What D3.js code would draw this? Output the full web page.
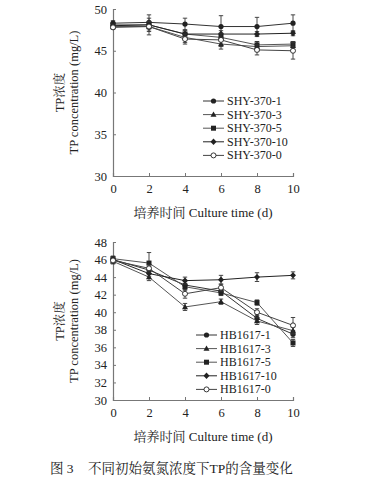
<!DOCTYPE html>
<html><head><meta charset="utf-8">
<script src="https://cdn.jsdelivr.net/npm/d3@7"></script>
<style>body{margin:0;background:#fff}svg{display:block}</style>
</head><body>
<svg id="c" width="369" height="488"></svg>
<script>
const days = [0, 2, 4, 6, 8, 10];
const xTicks = [0, 2, 4, 6, 8, 10];

// Top panel (SHY-370)
const topNames = ["SHY-370-1", "SHY-370-3", "SHY-370-5", "SHY-370-10", "SHY-370-0"];
const shy1  = [48.3, 48.4, 48.2, 47.9, 47.9, 48.3];
const shy3  = [47.9, 47.9, 46.6, 45.8, 45.5, 45.6];
const shy5  = [48.1, 48.1, 47.0, 46.6, 45.7, 45.8];
const shy10 = [48.0, 48.1, 47.0, 47.0, 47.0, 47.1];
const shy0  = [47.8, 47.9, 46.4, 46.3, 45.1, 45.0];
const shy1e  = [0.3, 0.9, 0.7, 1.3, 1.1, 1.0];
const shy3e  = [0.3, 1.0, 0.6, 0.6, 0.6, 0.4];
const shy5e  = [0.2, 0.4, 0.5, 0.5, 0.4, 0.3];
const shy10e = [0.2, 0.3, 0.4, 0.4, 0.3, 0.3];
const shy0e  = [0.2, 0.6, 0.6, 0.8, 0.6, 1.0];
const topYTicks = [30, 35, 40, 45, 50];

// Bottom panel (HB1617)
const botNames = ["HB1617-1", "HB1617-3", "HB1617-5", "HB1617-10", "HB1617-0"];
const hb1  = [46.0, 44.8, 43.1, 42.4, 39.3, 37.5];
const hb3  = [45.8, 44.0, 40.6, 41.2, 39.0, 37.9];
const hb5  = [46.1, 45.6, 42.9, 42.2, 41.1, 36.5];
const hb10 = [46.0, 44.4, 43.6, 43.7, 44.0, 44.2];
const hb0  = [45.9, 45.0, 42.1, 42.8, 40.0, 38.5];
const hb1e  = [0.3, 0.4, 0.4, 0.3, 0.4, 0.4];
const hb3e  = [0.3, 0.4, 0.4, 0.3, 0.4, 0.4];
const hb5e  = [0.3, 1.2, 0.4, 0.3, 0.3, 0.4];
const hb10e = [0.3, 0.3, 0.4, 0.5, 0.5, 0.4];
const hb0e  = [0.3, 0.4, 0.5, 0.4, 0.4, 0.9];
const botYTicks = [30, 32, 34, 36, 38, 40, 42, 44, 46, 48];

const markers = ["circle", "triangle", "square", "diamond", "open"];
const lineColors = ["#333", "#555", "#555", "#222", "#444"];

const svg = d3.select("#c");
const font = "'Liberation Serif', 'Times New Roman', serif";
const cjk = "'Liberation Serif', 'Noto Serif CJK SC', 'Noto Sans CJK SC', serif";

function drawMarker(g, type, x, y) {
  if (type === "circle") g.append("circle").attr("cx", x).attr("cy", y).attr("r", 2.6).attr("fill", "#222");
  else if (type === "open") g.append("circle").attr("cx", x).attr("cy", y).attr("r", 2.5).attr("fill", "#fff").attr("stroke", "#222").attr("stroke-width", 0.9);
  else if (type === "square") g.append("rect").attr("x", x - 2.5).attr("y", y - 2.5).attr("width", 5).attr("height", 5).attr("fill", "#222");
  else if (type === "triangle") g.append("path").attr("d", `M${x},${y - 3.2}L${x + 3},${y + 2.2}L${x - 3},${y + 2.2}Z`).attr("fill", "#222");
  else if (type === "diamond") g.append("path").attr("d", `M${x},${y - 3.2}L${x + 3},${y}L${x},${y + 3.2}L${x - 3},${y}Z`).attr("fill", "#222");
}

function panel(cfg) {
  const x = d3.scaleLinear().domain([0, 10]).range([cfg.x0, cfg.x1]);
  const y = d3.scaleLinear().domain(cfg.ydom).range([cfg.yb, cfg.yt]);
  const g = svg.append("g");
  const xa = g.append("g").attr("transform", `translate(0,${cfg.yb})`)
    .call(d3.axisBottom(x).tickValues(xTicks).tickSize(-3).tickPadding(8).tickFormat(d3.format("d")));
  const ya = g.append("g").attr("transform", `translate(${cfg.x0},0)`)
    .call(d3.axisLeft(y).tickValues(cfg.yticks).tickSize(-3).tickPadding(6).tickFormat(d3.format("d")));
  [xa, ya].forEach(a => {
    a.select(".domain").attr("stroke", "#777").attr("stroke-width", 1.2);
    a.selectAll(".tick line").attr("stroke", "#777");
    a.selectAll("text").attr("font-family", font).attr("font-size", 12.5).attr("fill", "#222");
  });
  cfg.series.forEach((vals, i) => {
    const errs = cfg.errs[i];
    const line = d3.line().x((d, j) => x(days[j])).y(d => y(d));
    g.append("path").datum(vals).attr("d", line).attr("fill", "none")
      .attr("stroke", lineColors[i]).attr("stroke-width", 1);
    vals.forEach((v, j) => {
      const px = x(days[j]);
      const e = errs[j];
      g.append("line").attr("x1", px).attr("x2", px).attr("y1", y(v - e)).attr("y2", y(v + e)).attr("stroke", "#333").attr("stroke-width", 0.9);
      [v - e, v + e].forEach(w => g.append("line").attr("x1", px - 2.2).attr("x2", px + 2.2).attr("y1", y(w)).attr("y2", y(w)).attr("stroke", "#333").attr("stroke-width", 0.9));
    });
    vals.forEach((v, j) => drawMarker(g, markers[i], x(days[j]), y(v)));
  });
  cfg.names.forEach((n, i) => {
    const ly = cfg.legY + i * cfg.legDy;
    g.append("line").attr("x1", cfg.legX).attr("x2", cfg.legX + 21).attr("y1", ly).attr("y2", ly).attr("stroke", lineColors[i]).attr("stroke-width", 1);
    drawMarker(g, markers[i], cfg.legX + 10.5, ly);
    g.append("text").attr("x", cfg.legX + 24).attr("y", ly + 4).text(n)
      .attr("font-family", font).attr("font-size", 12).attr("fill", "#222");
  });
  g.append("text").attr("x", (cfg.x0 + cfg.x1) / 2).attr("y", cfg.yb + 41).attr("text-anchor", "middle")
    .attr("font-family", cjk).attr("font-size", 13).attr("fill", "#222").text("培养时间 Culture time (d)");
  const cy = (cfg.yb + cfg.yt) / 2;
  g.append("text").attr("transform", `translate(64,${cy}) rotate(-90)`).attr("text-anchor", "middle")
    .attr("font-family", cjk).attr("font-size", 12.5).attr("fill", "#222").text("TP浓度");
  g.append("text").attr("transform", `translate(78,${cy}) rotate(-90)`).attr("text-anchor", "middle")
    .attr("font-family", cjk).attr("font-size", 12.5).attr("fill", "#222").text("TP concentration (mg/L)");
}

panel({x0: 113, x1: 293, yt: 9, yb: 176, ydom: [30, 50], yticks: topYTicks,
  series: [shy1, shy3, shy5, shy10, shy0], errs: [shy1e, shy3e, shy5e, shy10e, shy0e],
  names: topNames, legX: 203, legY: 101, legDy: 13.6});
panel({x0: 113, x1: 293, yt: 242, yb: 400, ydom: [30, 48], yticks: botYTicks,
  series: [hb1, hb3, hb5, hb10, hb0], errs: [hb1e, hb3e, hb5e, hb10e, hb0e],
  names: botNames, legX: 196, legY: 335, legDy: 13.6});

svg.append("text").attr("x", 50).attr("y", 473)
  .attr("font-family", cjk).attr("font-size", 13.5).attr("fill", "#222").text("图 3");
svg.append("text").attr("x", 88).attr("y", 473)
  .attr("font-family", cjk).attr("font-size", 13.5).attr("fill", "#222").text("不同初始氨氮浓度下TP的含量变化");
</script>
</body></html>
